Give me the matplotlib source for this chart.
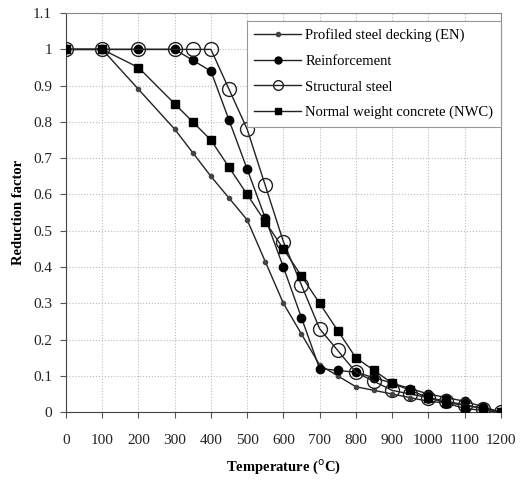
import matplotlib.pyplot as plt

plt.rcParams['font.family'] = 'Liberation Serif'

# temperatures (deg C)
temps = [0, 100, 200, 300, 350, 400, 450, 500, 550, 600, 650, 700, 750,
         800, 850, 900, 950, 1000, 1050, 1100, 1150, 1200]

# reduction factors
decking = [1, 1, 0.89, 0.78, 0.715, 0.65, 0.59, 0.53, 0.415, 0.30, 0.215, 0.13,
           0.10, 0.07, 0.06, 0.05, 0.04, 0.03, 0.025, 0.02, 0.01, 0]
reinforcement = [1, 1, 1, 1, 0.97, 0.94, 0.805, 0.67, 0.535, 0.40, 0.26, 0.12,
                 0.115, 0.11, 0.095, 0.08, 0.065, 0.05, 0.04, 0.03, 0.015, 0]
structural = [1, 1, 1, 1, 1, 1, 0.89, 0.78, 0.625, 0.47, 0.35, 0.23,
              0.17, 0.11, 0.085, 0.06, 0.05, 0.04, 0.03, 0.02, 0.01, 0]
nwc = [1, 1, 0.95, 0.85, 0.80, 0.75, 0.675, 0.60, 0.525, 0.45, 0.375, 0.30,
       0.225, 0.15, 0.115, 0.08, 0.06, 0.04, 0.025, 0.01, 0.005, 0]

fig = plt.figure(figsize=(5.26, 4.86), dpi=100)
ax = fig.add_axes([0.1255, 0.152, 0.8265, 0.821])

ax.plot(temps, decking, color='#222222', lw=1, marker='o', ms=3,
        mfc='#444444', mec='#444444', label='Profiled steel decking (EN)', zorder=3)
ax.plot(temps, reinforcement, color='#222222', lw=1, marker='o', ms=6,
        mfc='black', mec='black', label='Reinforcement', zorder=3)
ax.plot(temps, structural, color='#222222', lw=1, marker='o', ms=10,
        mfc='none', mec='#222222', label='Structural steel', zorder=3)
ax.plot(temps, nwc, color='#222222', lw=1, marker='s', ms=6,
        mfc='black', mec='black', label='Normal weight concrete (NWC)', zorder=3)

ax.set_xlim(0, 1200)
ax.set_ylim(0, 1.1)
ax.set_xticks(range(0, 1201, 100))
ax.set_yticks([i / 10 for i in range(12)])
ax.set_yticklabels(['0', '0.1', '0.2', '0.3', '0.4', '0.5', '0.6', '0.7',
                    '0.8', '0.9', '1', '1.1'])
ax.tick_params(axis='both', labelsize=11, length=4, color='#555555',
               labelcolor='#222222')
ax.tick_params(axis='x', pad=12)
ax.tick_params(axis='y', pad=6)
ax.grid(True, color='#bbbbbb', linestyle=':', linewidth=0.8, zorder=0)

for s in ['top', 'right']:
    ax.spines[s].set_color('#888888')
for s in ['left', 'bottom']:
    ax.spines[s].set_color('#444444')

ax.set_xlabel('Temperature ($^{\\rm o}$C)', fontsize=10.5, fontweight='bold', labelpad=7)
ax.set_ylabel('Reduction factor', fontsize=10.5, fontweight='bold', labelpad=6)

leg = ax.legend(loc='upper right', bbox_to_anchor=(1.0, 0.98), fontsize=10.5,
                handlelength=3.2, labelspacing=0.85, borderaxespad=0,
                fancybox=False, framealpha=1, edgecolor='#999999',
                handletextpad=0.3, borderpad=0.5)
leg.get_frame().set_linewidth(0.8)
leg.set_zorder(5)
for h in leg.legend_handles:
    if h.get_markersize() == 10:
        h.set_markersize(7)
    elif h.get_markersize() == 6:
        h.set_markersize(5)

fig.savefig('out.png', dpi=100)
